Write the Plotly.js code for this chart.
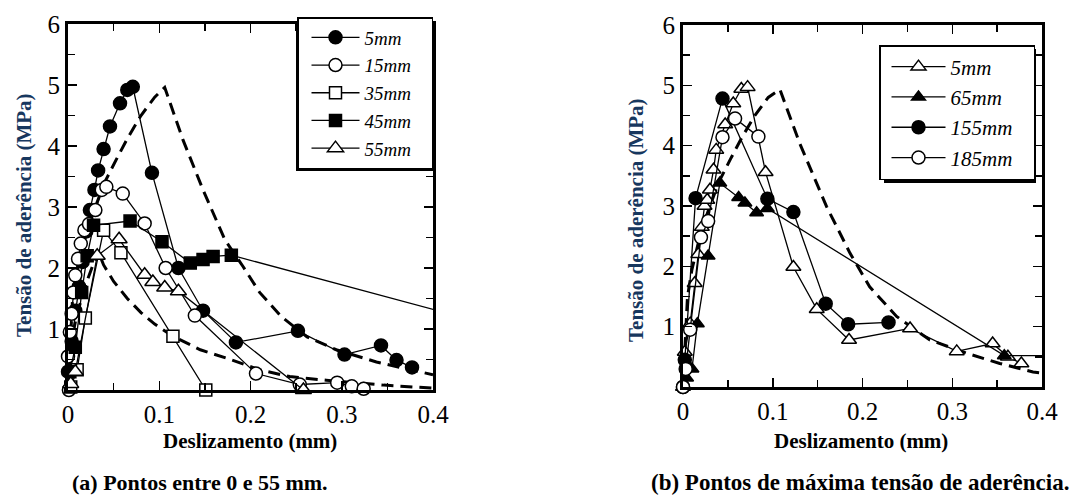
<!DOCTYPE html>
<html>
<head>
<meta charset="utf-8">
<script src="https://cdn.plot.ly/plotly-3.0.1.min.js"></script>
<style>html,body{margin:0;padding:0;background:#fff;}#chart{width:1076px;height:497px;}</style>
</head>
<body>
<div id="chart"></div>
<script>
// ---------- data: (a) Pontos entre 0 e 55 mm ----------
var a_x5  = [0.0, 0.004, 0.008, 0.012, 0.016, 0.020, 0.024, 0.029, 0.033, 0.039, 0.046, 0.057, 0.065, 0.071, 0.092, 0.121, 0.148, 0.184, 0.252, 0.303, 0.343, 0.360, 0.377];
var a_y5  = [0.3, 0.8, 1.3, 1.7, 2.1, 2.6, 2.95, 3.28, 3.6, 3.95, 4.32, 4.7, 4.92, 4.97, 3.56, 2.0, 1.3, 0.78, 0.97, 0.58, 0.73, 0.49, 0.37];
var a_x15 = [0.001, 0.0, 0.002, 0.004, 0.006, 0.008, 0.011, 0.014, 0.018, 0.023, 0.030, 0.037, 0.042, 0.060, 0.084, 0.107, 0.139, 0.206, 0.254, 0.295, 0.311, 0.324];
var a_y15 = [0.0, 0.55, 0.95, 1.25, 1.6, 1.88, 2.15, 2.4, 2.62, 2.72, 2.95, 3.28, 3.33, 3.22, 2.73, 2.0, 1.22, 0.27, 0.09, 0.12, 0.06, 0.02];
var a_x35 = [0.003, 0.010, 0.019, 0.039, 0.058, 0.115, 0.151];
var a_y35 = [0.05, 0.33, 1.18, 2.62, 2.25, 0.88, 0.0];
var a_x45 = [0.002, 0.008, 0.015, 0.021, 0.028, 0.068, 0.103, 0.134, 0.148, 0.159, 0.179, 0.45];
var a_y45 = [0.3, 0.7, 1.6, 2.2, 2.7, 2.77, 2.43, 2.08, 2.14, 2.19, 2.21, 1.12];
var a_x55 = [0.003, 0.008, 0.032, 0.056, 0.084, 0.093, 0.106, 0.121, 0.258];
var a_y55 = [0.1, 0.3, 2.2, 2.47, 1.89, 1.77, 1.68, 1.62, 0.0];
var a_xModelUp = [0, 0.005, 0.01, 0.02, 0.03, 0.04, 0.053, 0.065, 0.08, 0.095, 0.106, 0.126, 0.148, 0.172, 0.192, 0.21, 0.234, 0.262, 0.294, 0.338, 0.367, 0.4];
var a_yModelUp = [0, 1.5, 1.95, 2.57, 3.0, 3.4, 3.78, 4.12, 4.5, 4.8, 4.96, 4.1, 3.28, 2.46, 2.02, 1.6, 1.2, 0.87, 0.66, 0.46, 0.36, 0.25];
var a_xModelLow = [0, 0.005, 0.01, 0.02, 0.033, 0.039, 0.05, 0.065, 0.08, 0.095, 0.115, 0.145, 0.174, 0.21, 0.243, 0.283, 0.346, 0.4];
var a_yModelLow = [0, 0.9, 1.25, 1.75, 2.28, 2.05, 1.78, 1.5, 1.27, 1.08, 0.88, 0.66, 0.52, 0.33, 0.22, 0.16, 0.08, 0.03];

// ---------- data: (b) Pontos de máxima tensão de aderência ----------
var b_x5   = [0.0, 0.002, 0.008, 0.013, 0.017, 0.021, 0.024, 0.027, 0.030, 0.034, 0.037, 0.047, 0.056, 0.065, 0.072, 0.092, 0.123, 0.149, 0.185, 0.253, 0.305, 0.345, 0.362, 0.377];
var b_y5   = [0.0, 0.58, 1.05, 1.72, 2.2, 2.65, 3.0, 3.1, 3.27, 3.6, 3.93, 4.35, 4.7, 4.94, 4.97, 3.56, 1.99, 1.29, 0.78, 0.97, 0.59, 0.72, 0.5, 0.39];
var b_x65  = [0.0, 0.004, 0.010, 0.016, 0.028, 0.041, 0.062, 0.069, 0.082, 0.094, 0.358, 0.45];
var b_y65  = [0.0, 0.15, 0.3, 1.05, 2.17, 3.38, 3.14, 3.05, 2.89, 2.96, 0.52, 0.52];
var b_x155 = [0.0, 0.002, 0.014, 0.044, 0.094, 0.123, 0.159, 0.184, 0.229];
var b_y155 = [0.0, 0.45, 3.13, 4.78, 3.12, 2.9, 1.38, 1.04, 1.07];
var b_x185 = [0.0, 0.003, 0.008, 0.020, 0.028, 0.044, 0.058, 0.084];
var b_y185 = [0.0, 0.3, 0.95, 2.48, 2.75, 4.14, 4.45, 4.15];
var b_xModel = [0, 0.005, 0.01, 0.02, 0.03, 0.04, 0.053, 0.065, 0.08, 0.095, 0.108, 0.13, 0.16, 0.186, 0.208, 0.238, 0.275, 0.316, 0.353, 0.39, 0.4];
var b_yModel = [0, 1.5, 1.95, 2.57, 3.0, 3.4, 3.78, 4.12, 4.5, 4.8, 4.93, 4.04, 2.99, 2.22, 1.66, 1.17, 0.78, 0.56, 0.39, 0.25, 0.23];

var xTickVals = [0, 0.1, 0.2, 0.3, 0.4];
var xTickText = ['0', '0.1', '0.2', '0.3', '0.4'];
var yTickVals = [1, 2, 3, 4, 5, 6];
var yTickText = ['1', '2', '3', '4', '5', '6'];
var legendA = ['5mm', '15mm', '35mm', '45mm', '55mm'];
var legendB = ['5mm', '65mm', '155mm', '185mm'];

// ---------- styling ----------
var SERIF = 'Liberation Serif';
var NB = '\u00a0';
function series(x, y, name, symbol, fill, size, xa, ya, leg, clip) {
  return {
    x: x, y: y, name: '<i>' + name + '</i>' + NB + NB + NB, type: 'scatter', mode: 'lines+markers',
    xaxis: xa, yaxis: ya, legend: leg, cliponaxis: clip,
    line: {color: '#000', width: 1.3},
    marker: {symbol: symbol, size: size, color: fill, line: {color: '#000', width: 1.5}}
  };
}
function model(x, y, xa, ya) {
  return {x: x, y: y, type: 'scatter', mode: 'lines', xaxis: xa, yaxis: ya, showlegend: false,
          hoverinfo: 'skip', line: {color: '#000', width: 3, dash: '12px,7px'}};
}

var traces = [
  model(a_xModelUp, a_yModelUp, 'x', 'y'),
  model(a_xModelLow, a_yModelLow, 'x', 'y'),
  series(a_x5, a_y5, legendA[0], 'circle', '#000', 13, 'x', 'y', 'legend', false),
  series(a_x15, a_y15, legendA[1], 'circle', '#fff', 13, 'x', 'y', 'legend', false),
  series(a_x35, a_y35, legendA[2], 'square', '#fff', 12, 'x', 'y', 'legend', false),
  series(a_x45, a_y45, legendA[3], 'square', '#000', 12, 'x', 'y', 'legend', true),
  series(a_x55, a_y55, legendA[4], 'triangle-up', '#fff', 14, 'x', 'y', 'legend', false),
  model(b_xModel, b_yModel, 'x2', 'y2'),
  series(b_x5, b_y5, legendB[0], 'triangle-up', '#fff', 13, 'x2', 'y2', 'legend2', false),
  series(b_x65, b_y65, legendB[1], 'triangle-up', '#000', 12, 'x2', 'y2', 'legend2', true),
  series(b_x155, b_y155, legendB[2], 'circle', '#000', 13, 'x2', 'y2', 'legend2', false),
  series(b_x185, b_y185, legendB[3], 'circle', '#fff', 13, 'x2', 'y2', 'legend2', false)
];

var W = 1076, H = 497;
function px(v) { return v / W; }
function py(v) { return (H - v) / H; }
var TICKFONT = {family: SERIF, size: 25, color: '#000'};

function xAxis(dom, anchor) {
  return {
    domain: dom, anchor: anchor, range: [0, 0.4], tickmode: 'array', tickvals: xTickVals, ticktext: xTickText,
    ticks: 'inside', ticklen: 9, tickwidth: 1.5, tickcolor: '#000',
    minor: {tickmode: 'array', tickvals: [0.05, 0.15, 0.25, 0.35], ticks: 'inside', ticklen: 7, tickwidth: 1.5, tickcolor: '#000'},
    showline: true, linewidth: 3, linecolor: '#000', mirror: 'ticks',
    showgrid: false, zeroline: false, fixedrange: true,
    tickfont: TICKFONT
  };
}
function yAxis(dom, anchor) {
  return {
    domain: dom, anchor: anchor, range: [0, 6], tickmode: 'array', tickvals: yTickVals, ticktext: yTickText,
    ticks: 'inside', ticklen: 9, tickwidth: 1.5, tickcolor: '#000',
    minor: {tickmode: 'array', tickvals: [0.5, 1.5, 2.5, 3.5, 4.5, 5.5], ticks: 'inside', ticklen: 7, tickwidth: 1.5, tickcolor: '#000'},
    showline: true, linewidth: 3, linecolor: '#000', mirror: 'ticks',
    showgrid: false, zeroline: false, fixedrange: true,
    tickfont: TICKFONT
  };
}

var TITLE_BLUE = '#17375E';
function note(text, x, y, size, color, angle) {
  return {text: text, xref: 'paper', yref: 'paper', x: px(x), y: py(y), xanchor: 'center', yanchor: 'middle',
          textangle: angle || 0, showarrow: false, font: {family: SERIF, size: size, color: color}};
}
var layout = {
  width: W, height: H, margin: {l: 0, r: 0, t: 0, b: 0},
  paper_bgcolor: '#fff', plot_bgcolor: '#fff', showlegend: true,
  font: {family: SERIF, size: 25, color: '#000'},
  xaxis: xAxis([px(68), px(433)], 'y'),
  yaxis: yAxis([py(390), py(24)], 'x'),
  xaxis2: xAxis([px(683), px(1042)], 'y2'),
  yaxis2: yAxis([py(387), py(25)], 'x2'),
  legend: {x: px(433), y: py(17), xanchor: 'right', yanchor: 'top', bgcolor: '#fff',
           bordercolor: '#000', borderwidth: 1.5, indentation: 8, itemwidth: 48,
           font: {family: SERIF, size: 19, color: '#000'}, tracegroupgap: 0},
  legend2: {x: px(1035), y: py(45), xanchor: 'right', yanchor: 'top', bgcolor: '#fff',
            bordercolor: '#000', borderwidth: 1.5, indentation: 6, itemwidth: 54,
            font: {family: SERIF, size: 21, color: '#000'}, tracegroupgap: 0},
  shapes: [
    {type: 'rect', xref: 'paper', yref: 'paper', x0: px(296), x1: px(436), y0: py(171), y1: py(21),
     fillcolor: '#000', line: {width: 0}, layer: 'above'},
    {type: 'rect', xref: 'paper', yref: 'paper', x0: px(884), x1: px(1036), y0: py(183), y1: py(49),
     fillcolor: '#000', line: {width: 0}, layer: 'above'}
  ],
  annotations: [
    note('<b>Tensão de aderência (MPa)</b>', 24, 215, 21, TITLE_BLUE, -90),
    note('<b>Tensão de aderência (MPa)</b>', 636, 220, 21, TITLE_BLUE, -90),
    note('<b>Deslizamento (mm)</b>', 250, 441, 21, '#000'),
    note('<b>Deslizamento (mm)</b>', 861, 441, 21, '#000'),
    note('<b>(a) Pontos entre 0 e 55 mm.</b>', 200, 482, 22, '#000'),
    note('<b>(b) Pontos de máxima tensão de aderência.</b>', 860, 482, 23, '#000')
  ]
};

Plotly.newPlot('chart', traces, layout, {staticPlot: true, displayModeBar: false});
</script>
</body>
</html>
